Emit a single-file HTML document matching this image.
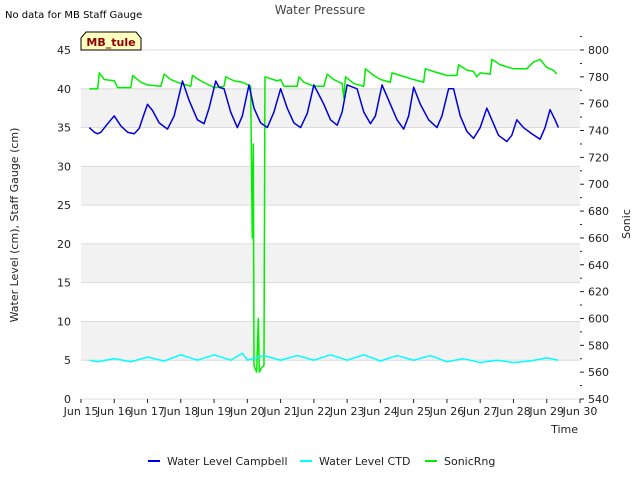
<!DOCTYPE html>
<html><head><meta charset="utf-8">
<style>
body{margin:0;background:#fff;font-family:"DejaVu Sans","Liberation Sans",sans-serif;}
svg text{font-family:"DejaVu Sans","Liberation Sans",sans-serif;}
</style></head>
<body>
<svg id="chart" width="640" height="480" xmlns="http://www.w3.org/2000/svg">
<rect width="640" height="480" fill="#fff"/>
<text x="5" y="18" font-size="10" fill="#000">No data for MB Staff Gauge</text>
<text x="320" y="14" font-size="12" fill="#444" text-anchor="middle">Water Pressure</text>
<g id="plot"></g>
</svg>
<script>
const days=[15,16,17,18,19,20,21,22,23,24,25,26,27,28,29,30];
const leftTicks=[0,5,10,15,20,25,30,35,40,45];
const rightTicks=[540,560,580,600,620,640,660,680,700,720,740,760,780,800];
const campT=[15.25,15.4,15.5,15.6,15.8,16.0,16.2,16.4,16.6,16.75,16.9,17.0,17.15,17.35,17.6,17.8,18.05,18.25,18.5,18.7,18.85,19.05,19.15,19.3,19.5,19.7,19.85,20.05,20.2,20.4,20.6,20.8,21.0,21.2,21.4,21.6,21.8,22.0,22.3,22.5,22.7,22.85,23.0,23.3,23.5,23.7,23.85,24.05,24.25,24.5,24.7,24.85,25.0,25.2,25.45,25.7,25.85,26.05,26.2,26.4,26.6,26.8,27.0,27.2,27.35,27.55,27.8,27.95,28.1,28.3,28.55,28.8,28.95,29.1,29.25,29.35];
const campV=[35,34.4,34.2,34.4,35.5,36.5,35.2,34.4,34.2,34.9,36.8,38,37.2,35.6,34.8,36.5,41,38.5,36,35.5,37.5,41,40.2,40,37,35,36.5,40.5,37.5,35.6,35,37,40,37.5,35.6,35,36.8,40.5,38,36,35.3,37,40.5,40,37,35.5,36.5,40.5,38.5,36,34.8,36.5,40.2,38,36,35,36.5,40,40,36.5,34.5,33.6,35,37.5,36,34,33.2,34,36,35,34.2,33.5,35,37.3,36,35];
const ctdT=[15.25,15.5,16.0,16.5,17.0,17.5,18.0,18.5,19.0,19.5,19.85,20.0,20.5,21.0,21.5,22.0,22.5,23.0,23.5,24.0,24.5,25.0,25.5,26.0,26.5,27.0,27.5,28.0,28.5,29.0,29.35];
const ctdV=[5.0,4.8,5.2,4.8,5.4,4.9,5.7,5.0,5.7,5.0,5.9,5.0,5.6,5.0,5.6,5.0,5.7,5.0,5.7,4.9,5.6,5.0,5.6,4.8,5.2,4.7,5.0,4.7,4.9,5.3,5.0];
const sonT=[15.25,15.5,15.55,15.7,16.0,16.1,16.5,16.55,16.8,17.0,17.4,17.5,17.7,18.0,18.3,18.35,18.6,19.0,19.3,19.35,19.6,19.85,20.1,20.15,20.18,20.2,20.28,20.33,20.36,20.42,20.5,20.53,20.9,21.0,21.1,21.5,21.55,21.7,22.0,22.3,22.4,22.6,22.85,22.9,22.95,23.2,23.5,23.55,23.8,24.0,24.3,24.35,24.6,25.0,25.3,25.35,25.6,26.0,26.3,26.35,26.6,26.8,26.9,27.0,27.3,27.35,27.6,28.0,28.4,28.6,28.8,29.0,29.2,29.3];
const sonV=[771,771,783,778,777,772,772,781,776,774,773,782,778,775,773,781,777,772,773,780,777,776,773,660,730,565,560,600,560,563,565,780,777,778,773,773,780,776,773,773,782,778,775,764,780,775,773,786,781,778,776,783,781,778,776,786,784,781,781,789,785,784,780,783,782,793,789,786,786,791,793,787,785,782];

const X0=81,X1=580,YT=50,YB=399;
const xs=d=>X0+(d-15)/15*(X1-X0);
const yl=v=>YB-v/45*(YB-YT);
const yr=v=>YB-(v-540)/260*(YB-YT);
const NS="http://www.w3.org/2000/svg";
const g=document.getElementById('plot');
function mk(t,a){const e=document.createElementNS(NS,t);for(const k in a)e.setAttribute(k,a[k]);g.appendChild(e);return e;}
for(let v=5;v<45;v+=10){const b=mk('rect',{x:X0,y:yl(v+5),width:X1-X0,height:yl(v)-yl(v+5),fill:'#f2f2f2'});

}
leftTicks.forEach(v=>{const l=mk('line',{x1:X0,x2:X1,y1:yl(v),y2:yl(v),stroke:'#dcdcdc','stroke-width':1});


const t=mk('text',{x:X0-10,y:yl(v)+4,'font-size':11,'text-anchor':'end',fill:'#222'});t.textContent=v;

});
rightTicks.forEach(v=>{mk('line',{x1:X1,x2:X1+4,y1:yr(v),y2:yr(v),stroke:'#222'});
mk('line',{x1:X1,x2:X1+2,y1:yr(v+10),y2:yr(v+10),stroke:'#222'});
const t=mk('text',{x:X1+8,y:yr(v)+4,'font-size':11,fill:'#222'});t.textContent=v;

});
days.forEach(d=>{mk('line',{x1:xs(d),x2:xs(d),y1:YB,y2:YB+4,stroke:'#222'});
const t=mk('text',{x:xs(d),y:YB+16,'font-size':11,'text-anchor':'middle',fill:'#222'});t.textContent='Jun '+d;

});
function series(T,V,yf,col,name){const p=mk('polyline',{points:T.map((t,i)=>xs(t)+','+yf(V[i])).join(' '),fill:'none',stroke:col,'stroke-width':1.5,'stroke-linejoin':'round'});

}
series(sonT,sonV,yr,'#00ee00','sonicrng-line');
series(ctdT,ctdV,yl,'#00ffff','water-level-ctd-line');
series(campT,campV,yl,'#0000dd','water-level-campbell-line');
const lbl=(x,y,s,nm,rot,anchor)=>{const t=mk('text',{x,y,'font-size':11,fill:'#222','text-anchor':anchor||'middle'});if(rot)t.setAttribute('transform',`rotate(-90 ${x} ${y})`);t.textContent=s;

};
lbl(18,225,'Water Level (cm), Staff Gauge (cm)','left-axis-title',true);
lbl(630,224,'Sonic','right-axis-title',true);
lbl(578,433,'Time','x-axis-title',false,'end');
const tg=mk('path',{d:'M81,50 L81,38 L86,32 L136,32 L141,38 L141,50 Z',fill:'#ffffc0',stroke:'#000'});


const tt=mk('text',{x:111,y:46,'font-size':11,'font-weight':'bold','text-anchor':'middle',fill:'#8b0000'});tt.textContent='MB_tule';


[['Water Level Campbell','#0000dd',148],['Water Level CTD','#00ffff',300],['SonicRng','#00ee00',425]].forEach(([n,c,x])=>{
const l=mk('line',{x1:x,x2:x+12,y1:461,y2:461,stroke:c,'stroke-width':2});


const t=mk('text',{x:x+19,y:465,'font-size':11,fill:'#222'});t.textContent=n;

});
</script>
</body></html>
